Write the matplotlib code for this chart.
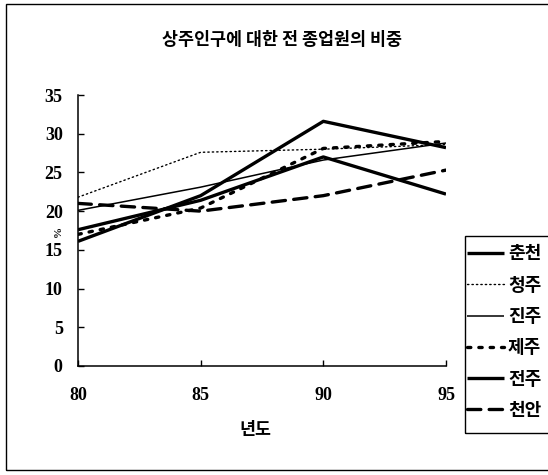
import matplotlib
matplotlib.use("Agg")
import matplotlib.pyplot as plt
from matplotlib.patches import Rectangle

# Data: share of employed persons relative to resident population (%)
years = [80, 85, 90, 95]
cities = ["춘천", "청주", "진주", "제주", "전주", "천안"]
chuncheon = [16.1, 22.0, 31.6, 28.2]
cheongju = [21.8, 27.6, 28.0, 28.6]
jinju = [20.1, 23.1, 26.6, 28.8]
jeju = [17.0, 20.4, 28.1, 29.0]
jeonju = [17.6, 21.4, 27.0, 22.2]
cheonan = [21.0, 20.0, 22.0, 25.3]
series = [chuncheon, cheongju, jinju, jeju, jeonju, cheonan]
x_ticks = [80, 85, 90, 95]
y_ticks = [0, 5, 10, 15, 20, 25, 30, 35]

title = "상주인구에 대한 전 종업원의 비중"
xlabel = "년도"
ylabel = "%"

styles = [
    dict(color="black", lw=2.4, ls="-"),
    dict(color="black", lw=1.0, ls=(0, (1, 2.2))),
    dict(color="black", lw=1.1, ls="-"),
    dict(color="black", lw=2.4, ls=(0, (1, 2.4))),
    dict(color="black", lw=2.4, ls="-"),
    dict(color="black", lw=2.4, ls=(0, (4, 2.5))),
]

kr = ["Noto Sans CJK KR", "DejaVu Sans"]
num_font = dict(family="Liberation Serif", weight="bold", size=13)

fig = plt.figure(figsize=(5.48, 4.75), dpi=100)
fig.patch.set_facecolor("white")

# outer frame around the chart area
fig.patches.append(Rectangle((6 / 548, 5 / 475), 1.2, 1 - 9 / 475,
                             transform=fig.transFigure, fill=False,
                             edgecolor="black", lw=1.0))

ax = fig.add_axes([78 / 548, 109 / 475, 368 / 548, 271 / 475])
for vals, name, st in zip(series, cities, styles):
    ax.plot(years, vals, label=name, dash_capstyle="round",
            solid_capstyle="butt", **st)

ax.set_xlim(80, 95)
ax.set_ylim(0, 35)
ax.set_xticks(x_ticks)
ax.set_yticks(y_ticks)
ax.set_xticklabels([str(v) for v in x_ticks], fontdict=num_font)
ax.set_yticklabels([str(v) for v in y_ticks], fontdict=num_font)
ax.tick_params(axis="x", direction="in", length=4, width=1, pad=15)
ax.tick_params(axis="y", direction="in", length=4, width=1, pad=11)
for s in ("top", "right"):
    ax.spines[s].set_visible(False)
for s in ("left", "bottom"):
    ax.spines[s].set_linewidth(1.1)
    ax.spines[s].set_color("black")

fig.text(282 / 548, 1 - 40 / 475, title, ha="center", va="center",
         family=kr, weight="bold", fontsize=12.5)
fig.text(255 / 548, 1 - 430 / 475, xlabel, ha="center", va="center",
         family=kr, weight="bold", fontsize=12.5)
fig.text(58 / 548, 1 - 232 / 475, ylabel, ha="center", va="center",
         rotation=90, family="Liberation Serif", weight="bold", fontsize=8)

# legend entries, with a separate box that runs past the right edge
leg = fig.legend(loc="upper left", bbox_to_anchor=(462 / 548, 1 - 239 / 475),
                 prop=dict(family=kr, weight="bold", size=13),
                 frameon=False, handlelength=2.0, handletextpad=0.25,
                 labelspacing=0.68, borderpad=0.3, borderaxespad=0)
fig.patches.append(Rectangle((465 / 548, 1 - 433 / 475), 0.2, 197 / 475,
                             transform=fig.transFigure, fill=False,
                             edgecolor="black", lw=1.0))

fig.savefig("out.png", dpi=100)
